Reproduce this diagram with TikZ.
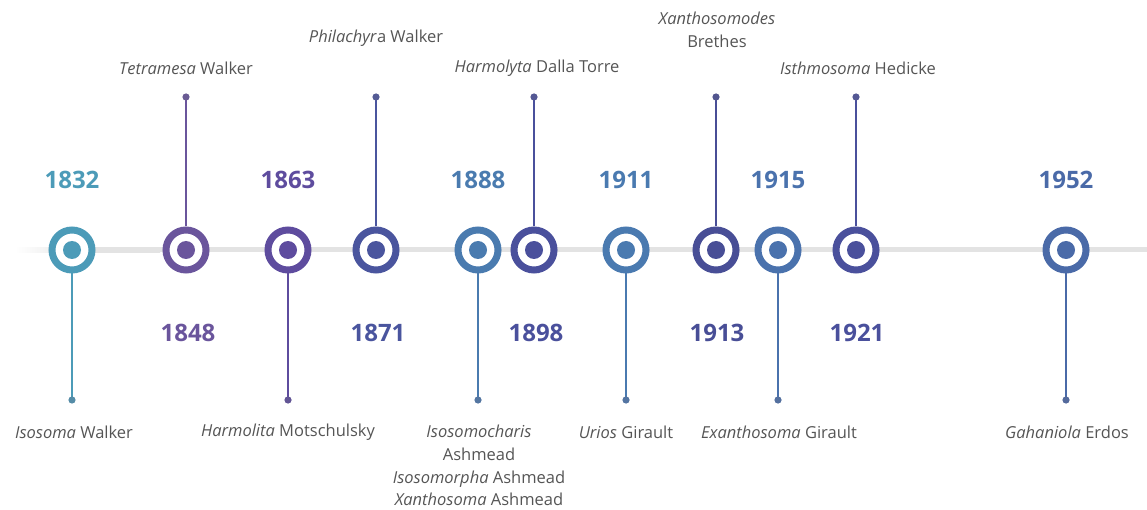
\documentclass[tikz,border=0pt]{standalone}
\usepackage{fontspec}
\setmainfont{Open Sans}
\definecolor{txt}{HTML}{555555}
\definecolor{axisgray}{HTML}{E3E3E3}
\definecolor{cA}{HTML}{4C9BB8}
\definecolor{cB}{HTML}{6A559C}
\definecolor{cC}{HTML}{5E4C9E}
\definecolor{cD}{HTML}{4A559E}
\definecolor{cE}{HTML}{4A7BAF}
\definecolor{cF}{HTML}{4A509C}
\definecolor{cG}{HTML}{4A7AB0}
\definecolor{cH}{HTML}{484E96}
\definecolor{cI}{HTML}{4A72AD}
\definecolor{cJ}{HTML}{4A509C}
\definecolor{cK}{HTML}{4A6AA8}
\definecolor{tipgray}{HTML}{6A6A80}
\tikzset{
  ring/.style={circle, draw=#1, line width=7pt, fill=white, minimum size=40pt, inner sep=0pt},
  yearlabel/.style={text=#1, font=\fontsize{24}{28}\selectfont\bfseries, inner sep=0pt},
  stem/.style={draw=#1, line width=1.8pt},
  namelabel/.style={text=txt, font=\fontsize{16.5}{22.7}\selectfont, align=center, inner sep=0pt},
}
\begin{document}
\begin{tikzpicture}[x=1pt,y=-1pt]
\useasboundingbox (0,0) rectangle (1147,510);
% faint horizontal axis
\shade[left color=white, right color=axisgray, middle color=axisgray] (15,247.5) rectangle (160,252.5);
\fill[axisgray] (160,247.5) rectangle (1147,252.5);
% milestones: name / x / colour / stem end
\foreach \n/\x/\c/\e in {a/72/cA/400, b/186/cB/97, c/288/cC/400, d/376/cD/97, e/478/cE/400, f/534/cF/97, g/626/cG/400, h/716/cH/97, i/778/cI/400, j/856/cJ/97, k/1066/cK/400}{
  \coordinate (t\n) at (\x,\e);
  \node[ring=\c] (r\n) at (\x,250) {};
  \fill[\c] (r\n.center) circle (9pt);
  \ifnum\e>250
    \draw[stem=\c] (r\n.south) -- (t\n);
  \else
    \draw[stem=\c] (r\n.north) -- (t\n);
  \fi
  \fill[\c!70!tipgray] (t\n) circle (3.6pt);
}
% years above the axis
\node[yearlabel=cA] (ya) at (72,180) {1832};
\node[yearlabel=cC] (yc) at (288,180) {1863};
\node[yearlabel=cE] (ye) at (478,180) {1888};
\node[yearlabel=cG] (yg) at (626,180) {1911};
\node[yearlabel=cI] (yi) at (778,180) {1915};
\node[yearlabel=cK] (yk) at (1066,180) {1952};
% years below the axis
\node[yearlabel=cB] (yb) at (188,333) {1848};
\node[yearlabel=cD] (yd) at (378,333) {1871};
\node[yearlabel=cF] (yf) at (536,333) {1898};
\node[yearlabel=cH] (yh) at (717,333) {1913};
\node[yearlabel=cJ] (yj) at (857,333) {1921};
% genus names at the top
\node[namelabel] (nb) at (186,68) {\textit{Tetramesa} Walker};
\node[namelabel] (nd) at (376,38) {\textit{Philachyr}a Walker};
\node[namelabel] (nf) at (537,68) {\textit{Harmolyta} Dalla Torre};
\node[namelabel, anchor=north] (nh) at (717,12) {\textit{Xanthosomodes}\\Brethes};
\node[namelabel] (nj) at (858,68) {\textit{Isthmosoma} Hedicke};
% genus names at the bottom
\node[namelabel] (na) at (74,432) {\textit{Isosoma} Walker};
\node[namelabel] (nc) at (288,432) {\textit{Harmolita} Motschulsky};
\node[namelabel, anchor=north] (ne) at (479,425) {\textit{Isosomocharis}\\Ashmead\\\textit{Isosomorpha} Ashmead\\\textit{Xanthosoma} Ashmead};
\node[namelabel] (ng) at (626,432) {\textit{Urios} Girault};
\node[namelabel] (ni) at (779,432) {\textit{Exanthosoma} Girault};
\node[namelabel] (nk) at (1067,432) {\textit{Gahaniola} Erdos};
\end{tikzpicture}
\end{document}
